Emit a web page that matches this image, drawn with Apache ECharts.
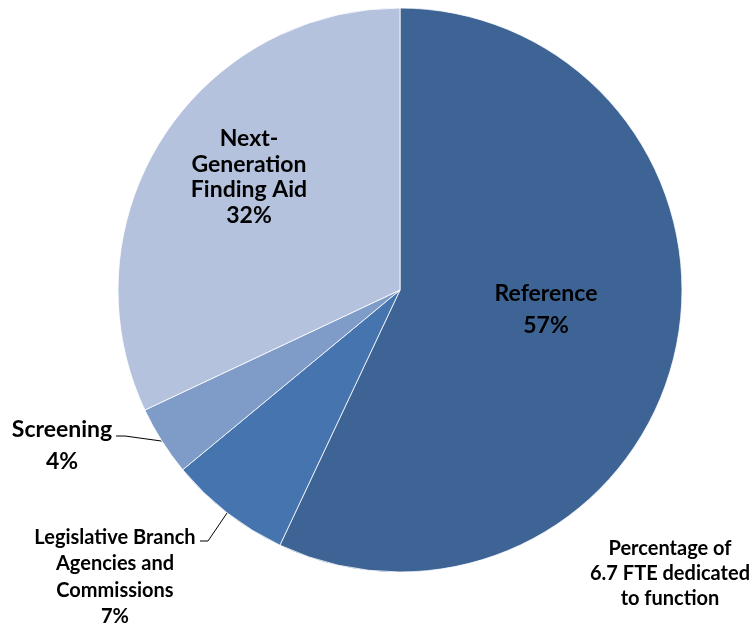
<!DOCTYPE html>
<html>
<head>
<meta charset="utf-8">
<script src="https://cdn.jsdelivr.net/npm/echarts@6/dist/echarts.min.js"></script>
<style>
  html, body { margin: 0; padding: 0; background: #fff; }
  #chart { width: 753px; height: 628px; }
</style>
</head>
<body>
<div id="chart"></div>
<script>
// data
const categories = ["Reference", "Legislative Branch\nAgencies and\nCommissions", "Screening", "Next-\nGeneration\nFinding Aid"];
const shares = [57, 7, 4, 32];
const sliceColors = ["#3e6496", "#4674ae", "#7f9bc8", "#b4c2de"];

// label placement (centre of text block) and leader line bend points
const labelSpots = [
    { x: 546, y: 310, size: 23, lh: 32 },
    { x: 115, y: 577, size: 20, lh: 26.5, line: [[208, 541], [200, 541]] },
    { x: 62, y: 446, size: 23, lh: 32, line: [[125, 436], [116, 436]] },
    { x: 249, y: 177, size: 23, lh: 25.5 }
];

const chart = echarts.init(document.getElementById("chart"));

chart.setOption({
    animation: false,
    title: {
        text: "Percentage of\n6.7 FTE dedicated\nto function",
        left: 665,
        top: 531,
        textAlign: "center",
        textStyle: {
            fontFamily: "Lato",
            fontWeight: "bold",
            fontSize: 20,
            lineHeight: 25,
            color: "#000"
        }
    },
    series: [
        {
            type: "pie",
            center: [400, 290],
            radius: 282,
            startAngle: 90,
            clockwise: true,
            itemStyle: { borderColor: "#fff", borderWidth: 0.8 },
            label: {
                show: true,
                fontFamily: "Lato",
                fontWeight: "bold",
                color: "#000",
                align: "center",
                formatter: (p) => p.name + "\n" + p.value + "%"
            },
            labelLine: { show: true, lineStyle: { color: "#000", width: 1 } },
            labelLayout: (p) => {
                const s = labelSpots[p.dataIndex];
                const out = { x: s.x, y: s.y, align: "center", verticalAlign: "middle" };
                if (s.line && p.labelLinePoints) {
                    out.labelLinePoints = [p.labelLinePoints[0], s.line[0], s.line[1]];
                }
                return out;
            },
            data: categories.map((name, i) => ({
                name: name,
                value: shares[i],
                itemStyle: { color: sliceColors[i] },
                label: {
                    position: labelSpots[i].line ? "outside" : "inside",
                    fontSize: labelSpots[i].size,
                    lineHeight: labelSpots[i].lh
                },
                labelLine: { show: !!labelSpots[i].line, length: 10, length2: 10 }
            }))
        }
    ]
});
</script>
</body>
</html>
